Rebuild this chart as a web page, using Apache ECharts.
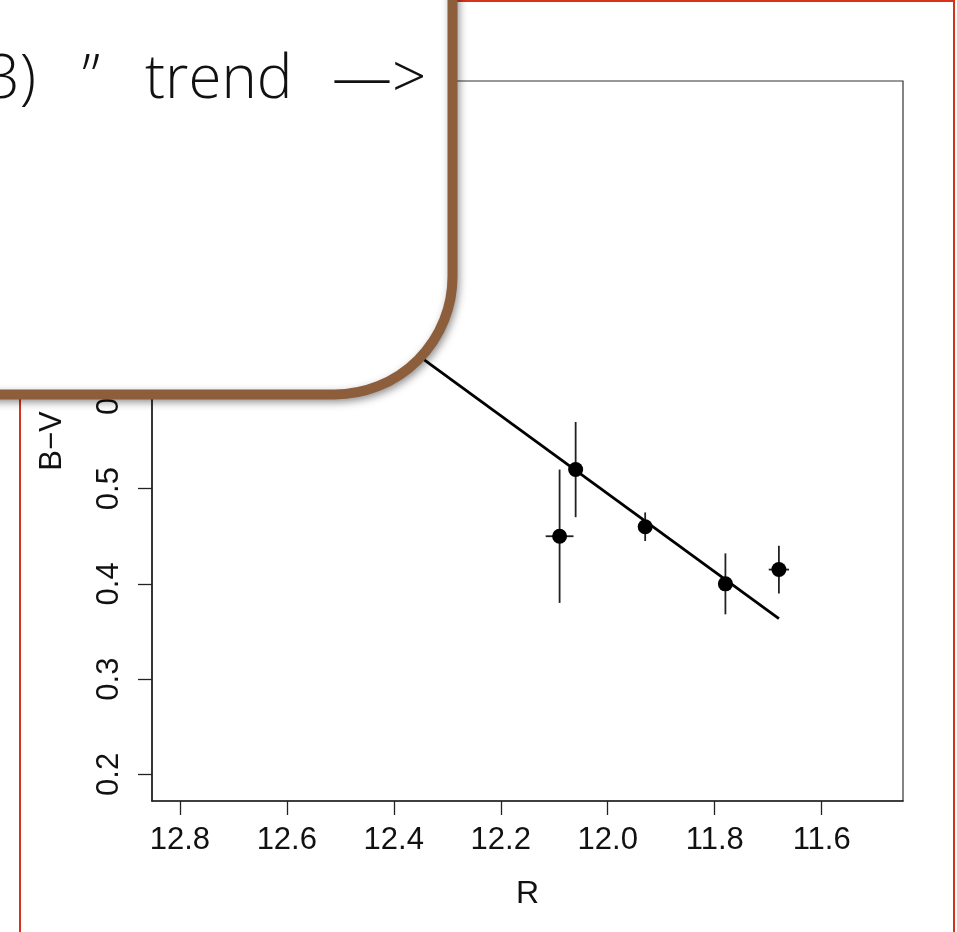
<!DOCTYPE html>
<html>
<head>
<meta charset="utf-8">
<script src="https://cdn.jsdelivr.net/npm/echarts@6/dist/echarts.min.js"></script>
<style>
  html, body { margin: 0; padding: 0; background: #fff; }
  #chart { width: 957px; height: 932px; }
</style>
</head>
<body>
<div id="chart"></div>
<script>
// Photometry: colour index against R magnitude
const rMag    = [12.09, 12.06, 11.93, 11.78, 11.68];
const bvColor = [0.45, 0.52, 0.46, 0.40, 0.415];
const bvErr   = [0.07, 0.05, 0.015, 0.032, 0.025];
const rErr    = [0.026, 0.01, 0.01, 0.01, 0.019];

// Linear trend fitted through the points
const trendR  = [12.45, 11.68];
const trendBV = [0.679, 0.3634];

const xTicks = [12.8, 12.6, 12.4, 12.2, 12.0, 11.8, 11.6];
const yTicks = [0.2, 0.3, 0.4, 0.5, 0.6, 0.7, 0.8, 0.9];

// axis limits padded 4% beyond xlim (12.8, 11.5) and ylim (0.2, 0.9)
const xLim = [11.5, 12.8];
const yLim = [0.2, 0.9];
const xPad = (xLim[1] - xLim[0]) * 0.04;
const yPad = (yLim[1] - yLim[0]) * 0.04;

const calloutWords = ['3)', '\u201D', 'trend', '\u2014>'];

const chart = echarts.init(document.getElementById('chart'), null, { renderer: 'canvas' });

const points = rMag.map((r, i) => [r, bvColor[i], bvErr[i], rErr[i]]);
const labelFont = 'Liberation Sans, Arial, Helvetica, sans-serif';
const calloutFont = '300 60px "Open Sans", Lato, sans-serif';

const option = {
  backgroundColor: '#ffffff',
  animation: false,
  grid: {
    left: 152, right: 54, top: 81, bottom: 131,
    show: true, borderColor: '#333', borderWidth: 1.2, backgroundColor: 'transparent'
  },
  xAxis: {
    type: 'value',
    inverse: true,
    min: xLim[0] - xPad,
    max: xLim[1] + xPad,
    splitLine: { show: false },
    axisLine: { show: true, lineStyle: { color: '#222', width: 1.6 } },
    axisTick: { show: true, length: 14, customValues: xTicks, lineStyle: { color: '#222', width: 1.3 } },
    axisLabel: {
      customValues: xTicks,
      formatter: v => v.toFixed(1),
      fontFamily: labelFont, fontSize: 31, color: '#111', margin: 24
    },
    name: 'R',
    nameLocation: 'middle',
    nameGap: 77,
    nameTextStyle: { fontFamily: labelFont, fontSize: 32, color: '#111' }
  },
  yAxis: {
    type: 'value',
    min: yLim[0] - yPad,
    max: yLim[1] + yPad,
    splitLine: { show: false },
    axisLine: { show: true, lineStyle: { color: '#222', width: 1.6 } },
    axisTick: { show: true, length: 14, customValues: yTicks, lineStyle: { color: '#222', width: 1.3 } },
    axisLabel: {
      customValues: yTicks,
      formatter: v => v.toFixed(1),
      rotate: 90,
      fontFamily: labelFont, fontSize: 31, color: '#111', margin: 27
    },
    name: 'B\u2212V',
    nameLocation: 'middle',
    nameGap: 84,
    nameRotate: 90,
    nameTextStyle: { fontFamily: labelFont, fontSize: 31, color: '#111' }
  },
  series: [
    {
      type: 'line',
      data: trendR.map((r, i) => [r, trendBV[i]]),
      symbol: 'none',
      lineStyle: { color: '#000', width: 2.8 },
      z: 3
    },
    {
      type: 'custom',
      data: points,
      renderItem: function (params, api) {
        const r = api.value(0), bv = api.value(1), ey = api.value(2), ex = api.value(3);
        const top = api.coord([r, bv + ey]);
        const bot = api.coord([r, bv - ey]);
        const lft = api.coord([r + ex, bv]);
        const rgt = api.coord([r - ex, bv]);
        const style = { stroke: '#222', lineWidth: 1.8 };
        return {
          type: 'group',
          children: [
            { type: 'line', shape: { x1: top[0], y1: top[1], x2: bot[0], y2: bot[1] }, style },
            { type: 'line', shape: { x1: lft[0], y1: lft[1], x2: rgt[0], y2: rgt[1] }, style }
          ]
        };
      },
      z: 4
    },
    {
      type: 'scatter',
      data: points.map(p => [p[0], p[1]]),
      symbol: 'circle',
      symbolSize: 15,
      itemStyle: { color: '#000', opacity: 1 },
      z: 5
    }
  ],
  graphic: [
    // slide frame
    {
      type: 'rect',
      z: 50,
      shape: { x: 20, y: 1, width: 934, height: 960 },
      style: { fill: 'none', stroke: '#d8321b', lineWidth: 2 }
    },
    // callout box
    {
      type: 'rect',
      z: 100,
      shape: { x: -120, y: -120, width: 572.5, height: 514.5, r: 118 },
      style: {
        fill: '#ffffff', stroke: '#8c5e3c', lineWidth: 10,
        shadowBlur: 8, shadowColor: 'rgba(0,0,0,0.35)', shadowOffsetX: 2, shadowOffsetY: 3
      }
    },
    {
      type: 'text', z: 101, x: 36, y: 51,
      style: { text: calloutWords[0], font: calloutFont, fill: '#111', align: 'right', verticalAlign: 'top' }
    },
    {
      type: 'text', z: 101, x: 82, y: 51,
      style: { text: calloutWords[1], font: calloutFont, fill: '#111', align: 'left', verticalAlign: 'top' }
    },
    {
      type: 'text', z: 101, x: 145, y: 51,
      style: { text: calloutWords[2], font: calloutFont, fill: '#111', align: 'left', verticalAlign: 'top' }
    },
    {
      type: 'text', z: 101, x: 332, y: 51,
      style: { text: calloutWords[3], font: calloutFont, fill: '#111', align: 'left', verticalAlign: 'top' }
    }
  ]
};

chart.setOption(option);
</script>
</body>
</html>
